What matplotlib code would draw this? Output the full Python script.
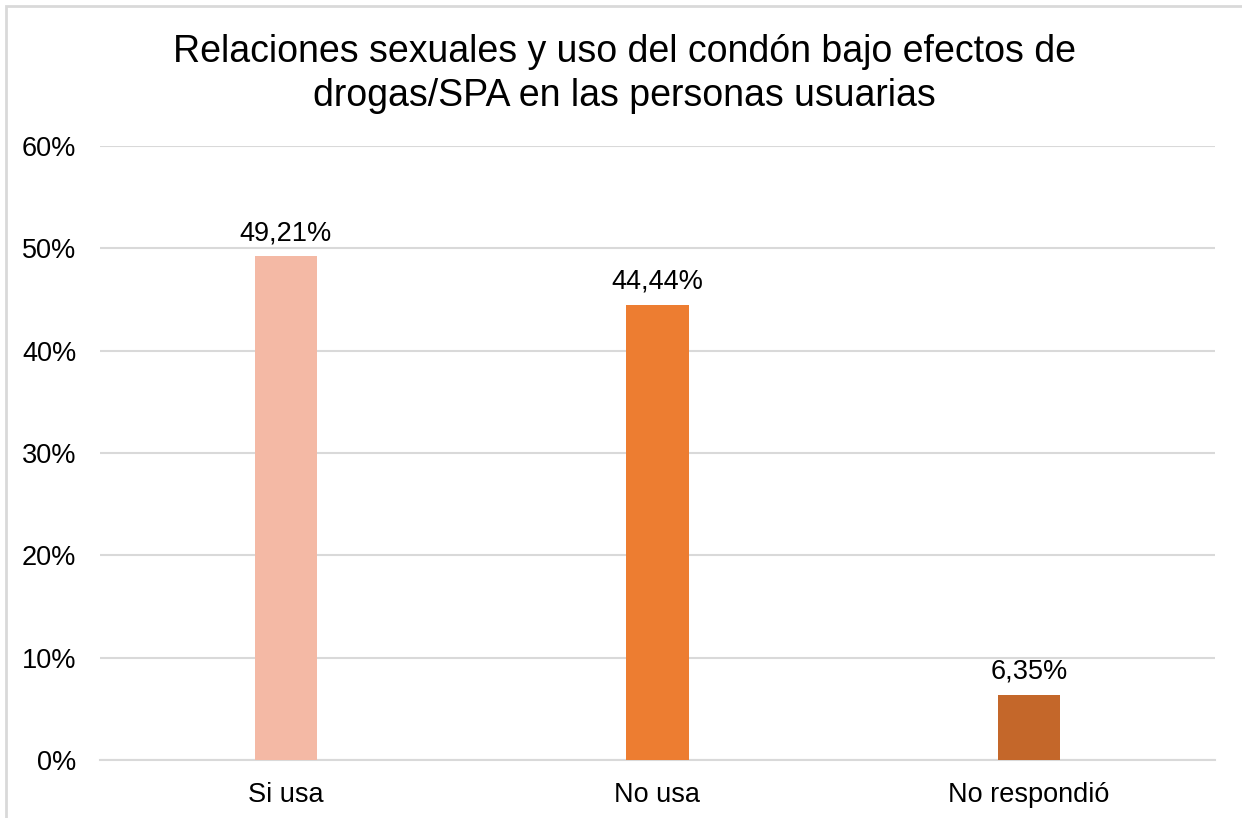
import matplotlib.pyplot as plt
from matplotlib.patches import Rectangle
from matplotlib.ticker import FuncFormatter, MultipleLocator

plt.rcParams["font.family"] = ["Liberation Sans", "DejaVu Sans"]

categories = ["Si usa", "No usa", "No respondió"]
values = [49.21, 44.44, 6.35]
labels = ["49,21%", "44,44%", "6,35%"]
colors = ["#F4B9A5", "#ED7D31", "#C4672A"]

fig = plt.figure(figsize=(12.42, 8.18), dpi=100)
ax = fig.add_axes([100 / 1242, 1 - 760 / 818, 1115 / 1242, 614 / 818])

x = range(len(categories))
bars = ax.bar(x, values, width=0.167, color=colors, zorder=3)
for bar, lab in zip(bars, labels):
    ax.text(bar.get_x() + bar.get_width() / 2, bar.get_height() + 1.0, lab,
            ha="center", va="bottom", fontsize=19.5, color="#000000")

ax.set_xlim(-0.5, 2.5)
ax.set_ylim(0, 60)
ax.yaxis.set_major_locator(MultipleLocator(10))
ax.yaxis.set_major_formatter(FuncFormatter(lambda v, p: f"{v:.0f}%"))
ax.set_xticks(list(x))
ax.set_xticklabels(categories)
ax.tick_params(axis="both", length=0, labelsize=19.5, colors="#000000")
ax.tick_params(axis="x", pad=16)
ax.tick_params(axis="y", pad=17)
ax.grid(axis="y", color="#D9D9D9", linewidth=1.5, zorder=0)
for s in ["top", "right", "left"]:
    ax.spines[s].set_visible(False)
ax.spines["bottom"].set_color("#D9D9D9")
ax.spines["bottom"].set_linewidth(1.5)

fig.text(0.503, 1 - 74 / 818, "Relaciones sexuales y uso del condón bajo efectos de\ndrogas/SPA en las personas usuarias",
         ha="center", va="center", fontsize=27, linespacing=1.27)

fig.patches.append(Rectangle((5.5 / 1242, -0.1), 1.2, 1 - 6.5 / 818 + 0.1,
                             transform=fig.transFigure, fill=False,
                             edgecolor="#D9D9D9", linewidth=2))

fig.savefig("out.png", dpi=100)
